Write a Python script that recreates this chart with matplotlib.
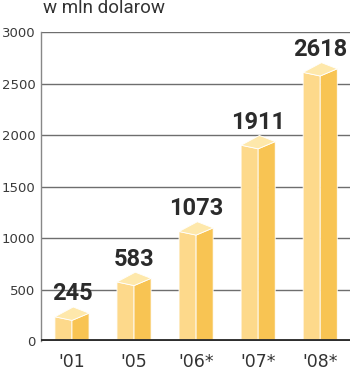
import matplotlib.pyplot as plt
from matplotlib.patches import Polygon

years = ["'01", "'05", "'06*", "'07*", "'08*"]
values = [245, 583, 1073, 1911, 2618]
yticks = [0, 500, 1000, 1500, 2000, 2500, 3000]

fig = plt.figure(figsize=(3.5, 3.77), dpi=100)
ax = fig.add_axes([0.117, 0.0955, 0.883, 0.8195])
ax.set_xlim(-0.5, 4.48)
ax.set_ylim(0, 3000)

for t in yticks[1:]:
    ax.axhline(t, color='#6e6e6e', lw=1, zorder=1)
ax.axhline(0, color='#2e2e2e', lw=2.8, zorder=5)

w = 0.275   # half width of box
front_c = '#fdd98b'
side_c = '#f8c453'
top_c = '#fee8ab'

for i, v in enumerate(values):
    # slightly tilted box: left, front, right and back corners of the top face
    lft = (i - w, v - 10)
    frt = (i, v - 45)
    rgt = (i + w, v + 25)
    bck = (i + 0.02, v + 85)
    ax.add_patch(Polygon([(i - w, 0), (i, 0), frt, lft],
                         facecolor=front_c, edgecolor='white', lw=0.6, zorder=3))
    ax.add_patch(Polygon([(i, 0), (i + w, 0), rgt, frt],
                         facecolor=side_c, edgecolor='white', lw=0.6, zorder=3))
    ax.add_patch(Polygon([lft, bck, rgt, frt],
                         facecolor=top_c, edgecolor='white', lw=0.6, zorder=3))
    ax.text(i, v + 150, str(v), ha='center', va='baseline', family='Roboto',
            fontsize=17, fontweight='bold', color='#2b2b2b', zorder=6)

ax.set_xticks(range(len(years)))
ax.set_xticklabels(years, fontsize=12.5, color='#333333')
ax.set_yticks(yticks)
ax.set_yticklabels([str(t) for t in yticks], fontsize=9.5, color='#3a3a3a')
ax.tick_params(axis='both', length=0, pad=4)
ax.tick_params(axis='x', pad=9)

for s in ['top', 'right', 'bottom']:
    ax.spines[s].set_visible(False)
ax.spines['left'].set_color('#888888')
ax.spines['left'].set_linewidth(1)

fig.text(43 / 350, 1 - 12.7 / 377, 'w mln dolarow', fontsize=13.5, family='Roboto',
         color='#333333', va='baseline', ha='left')

plt.savefig('out.png', dpi=100)
